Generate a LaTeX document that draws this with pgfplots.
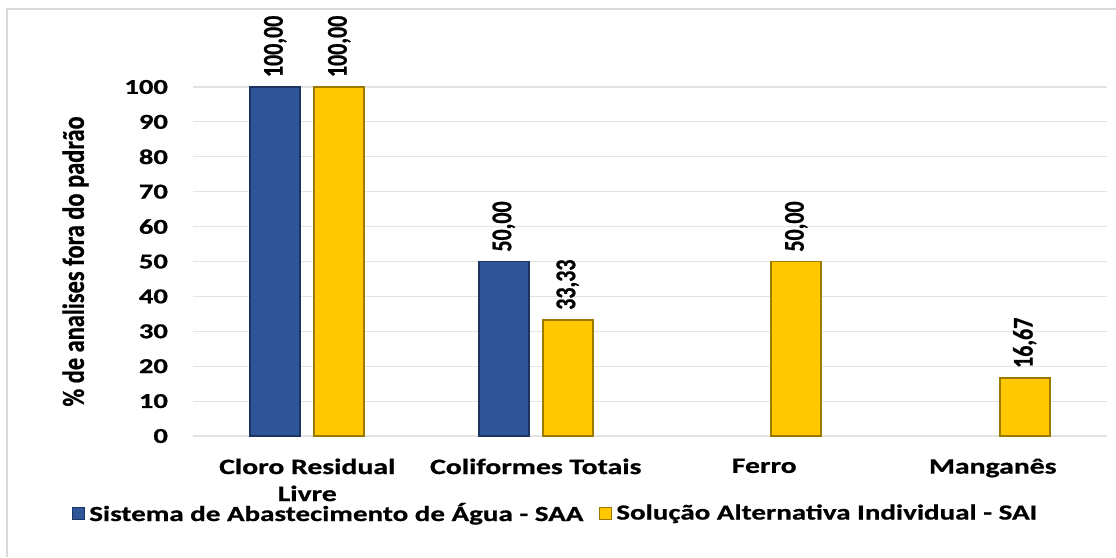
\documentclass[border=0pt]{standalone}
\usepackage{pgfplots}
\pgfplotsset{compat=1.18}
\usepackage{fontspec}
\setmainfont{Carlito}[BoldFont={Carlito Bold}, BoldFeatures={FakeBold=0.8}, FakeStretch=1.35]
\newfontfamily\rotfont{Carlito}[BoldFont={Carlito Bold}, BoldFeatures={FakeBold=0.8}]
\usetikzlibrary{calc}

\definecolor{saa}{HTML}{2F5597}
\definecolor{saaedge}{HTML}{1B3461}
\definecolor{sai}{HTML}{FFC800}
\definecolor{saiedge}{HTML}{9C7A00}
\definecolor{gridc}{HTML}{E3E3E3}
\definecolor{framec}{HTML}{D9D9D9}

\begin{document}
\begin{tikzpicture}
  \begin{axis}[
    name=ax,
    scale only axis,
    width=457pt,
    height=174.5pt,
    ybar=7pt,
    bar width=25pt,
    xmin=-0.5, xmax=3.5,
    ymin=0, ymax=100,
    ytick={0,10,...,100},
    xtick={0,1,2,3},
    xticklabels={{Cloro Residual\\Livre}, Coliformes Totais, Ferro, Manganês},
    xticklabel style={font=\fontsize{11}{13.5}\selectfont\bfseries, align=center, yshift=-3.5pt},
    yticklabel style={font=\fontsize{10.6}{12}\selectfont\bfseries, xshift=-9pt},
    /pgf/number format/assume math mode=true,
    axis line style={draw=none},
    major tick style={draw=none},
    ymajorgrids,
    grid style={gridc, line width=0.6pt},
    ylabel={\rotfont\fontsize{12.2}{14}\selectfont\bfseries \% de analises fora do padrão},
    ylabel style={at={(rel axis cs:-0.1285,0.5)}, anchor=center, yscale=1.25},
    clip=false,
    nodes near coords={\pgfmathprintnumber[fixed, fixed zerofill, precision=2, use comma]{\pgfplotspointmeta}},
    nodes near coords style={xscale=1.3, rotate=90, anchor=west, font=\rotfont\fontsize{11}{12}\selectfont\bfseries, inner xsep=4.5pt},
    legend columns=2,
    legend style={at={(0.398,-0.222)}, anchor=center, draw=none, fill=none,
      font=\fontsize{10.75}{12}\selectfont\bfseries,
      /tikz/every even column/.append style={column sep=6pt}},
    legend image code/.code={\draw[#1, line width=0.5pt] (0pt,-3pt) rectangle (6pt,3pt);},
  ]
    \addplot[fill=saa, draw=saaedge, line width=0.9pt] coordinates {(0,100) (1,50)};
    \addlegendentry{Sistema de Abastecimento de Água - SAA}
    \addplot[fill=sai, draw=saiedge, line width=0.9pt] coordinates {(0,100) (1,33.33) (2,50) (3,16.67)};
    \addlegendentry{Solução Alternativa Individual - SAI}
  \end{axis}
  \draw[framec, line width=0.8pt]
    ($(ax.south west)+(-93pt,-60.5pt)$) -- ($(ax.north west)+(-93pt,39pt)$)
    -- ($(ax.north east)+(4.5pt,39pt)$);
  \pgfresetboundingbox
  \path[use as bounding box] ($(ax.south west)+(-96.5pt,-60.5pt)$) rectangle ($(ax.north east)+(4.5pt,43.5pt)$);
\end{tikzpicture}
\end{document}
